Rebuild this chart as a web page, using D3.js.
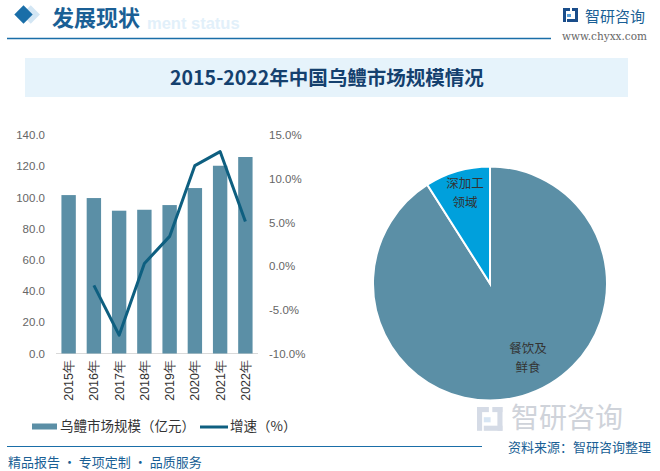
<!DOCTYPE html>
<html><head><meta charset="utf-8">
<script src="https://cdn.jsdelivr.net/npm/d3@7/dist/d3.min.js"></script>
<style>body{margin:0;background:#fff;}svg{display:block;font-family:"Noto Sans CJK SC","Microsoft YaHei",sans-serif;}</style>
</head><body>
<svg id="c" width="660" height="471"></svg>
<script>
const years = ["2015年","2016年","2017年","2018年","2019年","2020年","2021年","2022年"];
const marketSize = [101.5, 99.6, 91.5, 92.1, 95.1, 106.0, 120.3, 125.9];
const growth = [null, -2.2, -7.9, 0.3, 3.4, 11.5, 13.1, 5.1];
const leftTicks = [0, 20, 40, 60, 80, 100, 120, 140];
const rightTicks = [-10, -5, 0, 5, 10, 15];
const pieLabels = [["餐饮及","鲜食"], ["深加工","领域"]];
const pieValues = [91, 9];

const svg = d3.select("#c");

// header
svg.append("text").attr("x",147).attr("y",29).text("ment status")
  .attr("font-family","Arial, 'Liberation Sans', sans-serif").attr("font-weight","bold").attr("font-size",16.5).attr("fill","#e2f0fa");
svg.append("rect").attr("x",20).attr("y",8).attr("width",13).attr("height",13).attr("fill","#d3e6f4")
  .attr("transform","rotate(45 26.5 14.5) translate(3,-3)");
svg.append("rect").attr("x",17).attr("y",8).attr("width",13).attr("height",13).attr("fill","#1a6ea8")
  .attr("transform","rotate(45 23.5 14.5)");
svg.append("text").attr("x",52).attr("y",26).text("发展现状").attr("font-size",22).attr("font-weight","bold").attr("fill","#1a5f95");
svg.append("line").attr("x1",7).attr("x2",551).attr("y1",38.5).attr("y2",38.5).attr("stroke","#1a6ea8").attr("stroke-width",1.5);
// logo
function logo(g, s, c1, c2){
  g.append("rect").attr("x",0).attr("y",0).attr("width",7*s).attr("height",3*s).attr("fill",c1);
  g.append("rect").attr("x",0).attr("y",0).attr("width",3*s).attr("height",14*s).attr("fill",c1);
  g.append("rect").attr("x",4*s).attr("y",6*s).attr("width",4*s).attr("height",3*s).attr("fill",c2);
  g.append("rect").attr("x",9*s).attr("y",0).attr("width",6*s).attr("height",3*s).attr("fill",c1);
  g.append("rect").attr("x",12*s).attr("y",0).attr("width",3*s).attr("height",14*s).attr("fill",c1);
  g.append("rect").attr("x",4*s).attr("y",11*s).attr("width",11*s).attr("height",3*s).attr("fill",c1);
}
logo(svg.append("g").attr("transform","translate(563,8)"), 1, "#1a4d8a", "#5aa0d8");
svg.append("text").attr("x",585).attr("y",22).text("智研咨询").attr("font-size",15).attr("fill","#1a5f95");
svg.append("text").attr("x",562).attr("y",40).text("www.chyxx.com").attr("font-size",10.5).attr("font-family","'DejaVu Serif','Liberation Serif',serif").attr("fill","#666");

// title box
svg.append("rect").attr("x",25).attr("y",58).attr("width",603).attr("height",39).attr("fill","#e6f3fb");
svg.append("text").attr("x",327).attr("y",85).attr("text-anchor","middle").text("2015-2022年中国乌鳢市场规模情况")
  .attr("font-size",19.5).attr("font-weight","bold").attr("fill","#14406e");

// watermark (bottom right)
logo(svg.append("g").attr("transform","translate(477,407)").attr("opacity",0.35), 1.7, "#8a9bb8", "#8fb6de");
svg.append("text").attr("x",511).attr("y",428).text("智研咨询").attr("font-size",28).attr("fill","#cfd3da");

// bar chart
const x = d3.scaleBand().domain(years).range([56,258]).paddingInner(0.43).paddingOuter(0.215);
const yL = d3.scaleLinear().domain([0,140]).range([353.5,135]);
const yR = d3.scaleLinear().domain([-10,15]).range([353.5,135]);

const axL = svg.append("g").attr("transform","translate(49,0)")
  .call(d3.axisLeft(yL).tickValues(leftTicks).tickFormat(d3.format(".1f")).tickSize(0).tickPadding(0));
axL.select(".domain").remove();
axL.selectAll("text").attr("font-size",11.5).attr("fill","#666").attr("font-family","'Liberation Sans',Arial,sans-serif").attr("x",-4);

const axR = svg.append("g").attr("transform","translate(268,0)")
  .call(d3.axisRight(yR).tickValues(rightTicks).tickFormat(d=>d.toFixed(1)+"%").tickSize(0).tickPadding(0));
axR.select(".domain").remove();
axR.selectAll("text").attr("font-size",11.5).attr("fill","#666").attr("font-family","'Liberation Sans',Arial,sans-serif").attr("x",1);

svg.append("line").attr("x1",56).attr("x2",258).attr("y1",353.5).attr("y2",353.5).attr("stroke","#d9d9d9").attr("stroke-width",1);

svg.selectAll("rect.bar").data(marketSize).enter().append("rect").attr("class","bar")
  .attr("x",(d,i)=>x(years[i])).attr("width",x.bandwidth())
  .attr("y",d=>yL(d)).attr("height",d=>yL(0)-yL(d)).attr("fill","#5b8fa6");

const line = d3.line().defined(d=>d.v!==null).x(d=>x(d.y)+x.bandwidth()/2).y(d=>yR(d.v));
svg.append("path").datum(years.map((y,i)=>({y:y,v:growth[i]})))
  .attr("d",line).attr("fill","none").attr("stroke","#0e5f80").attr("stroke-width",3).attr("stroke-linejoin","round");

const axB = svg.append("g").attr("transform","translate(0,357)")
  .call(d3.axisBottom(x).tickSize(0).tickPadding(0));
axB.select(".domain").remove();
axB.selectAll("text").attr("transform","rotate(-90)").attr("text-anchor","end").attr("dy","0.35em").attr("x",-3).attr("y",0)
  .attr("font-size",12.5).attr("fill","#333");

// legend
svg.append("rect").attr("x",32).attr("y",423.5).attr("width",25).attr("height",6).attr("fill","#5b8fa6");
svg.append("text").attr("x",60).attr("y",431).text("乌鳢市场规模（亿元）").attr("font-size",13.5).attr("fill","#333");
svg.append("line").attr("x1",200).attr("x2",228).attr("y1",427).attr("y2",427).attr("stroke","#0e5f80").attr("stroke-width",3);
svg.append("text").attr("x",230).attr("y",431).text("增速（%）").attr("font-size",13.5).attr("fill","#333");

// pie
const pg = svg.append("g").attr("transform","translate(490,283.5)");
const arcs = d3.pie().sort(null).value(d=>d)(pieValues);
const arc = d3.arc().innerRadius(0).outerRadius(117);
const pieColors = ["#5b8fa6","#00a0dc"];
pg.selectAll("path").data(arcs).enter().append("path").attr("d",arc)
  .attr("fill",(d,i)=>pieColors[i]).attr("stroke","#fff").attr("stroke-width",2);
const labelPos = [[38,69],[-25,-96]];
pieLabels.forEach((lines,i)=>{
  lines.forEach((t,j)=>{
    pg.append("text").attr("x",labelPos[i][0]).attr("y",labelPos[i][1]+j*19).attr("text-anchor","middle").text(t)
      .attr("font-size",12.5).attr("fill","#333");
  });
});

// footer
svg.append("line").attr("x1",7).attr("x2",482).attr("y1",446.5).attr("y2",446.5).attr("stroke","#1a6ea8").attr("stroke-width",1.2);
svg.append("text").attr("x",8).attr("y",467).text("精品报告 · 专项定制 · 品质服务").attr("font-size",13).attr("fill","#1a5f95");
svg.append("text").attr("x",508).attr("y",452).text("资料来源：智研咨询整理").attr("font-size",13).attr("fill","#1a5f95");
</script>
</body></html>
